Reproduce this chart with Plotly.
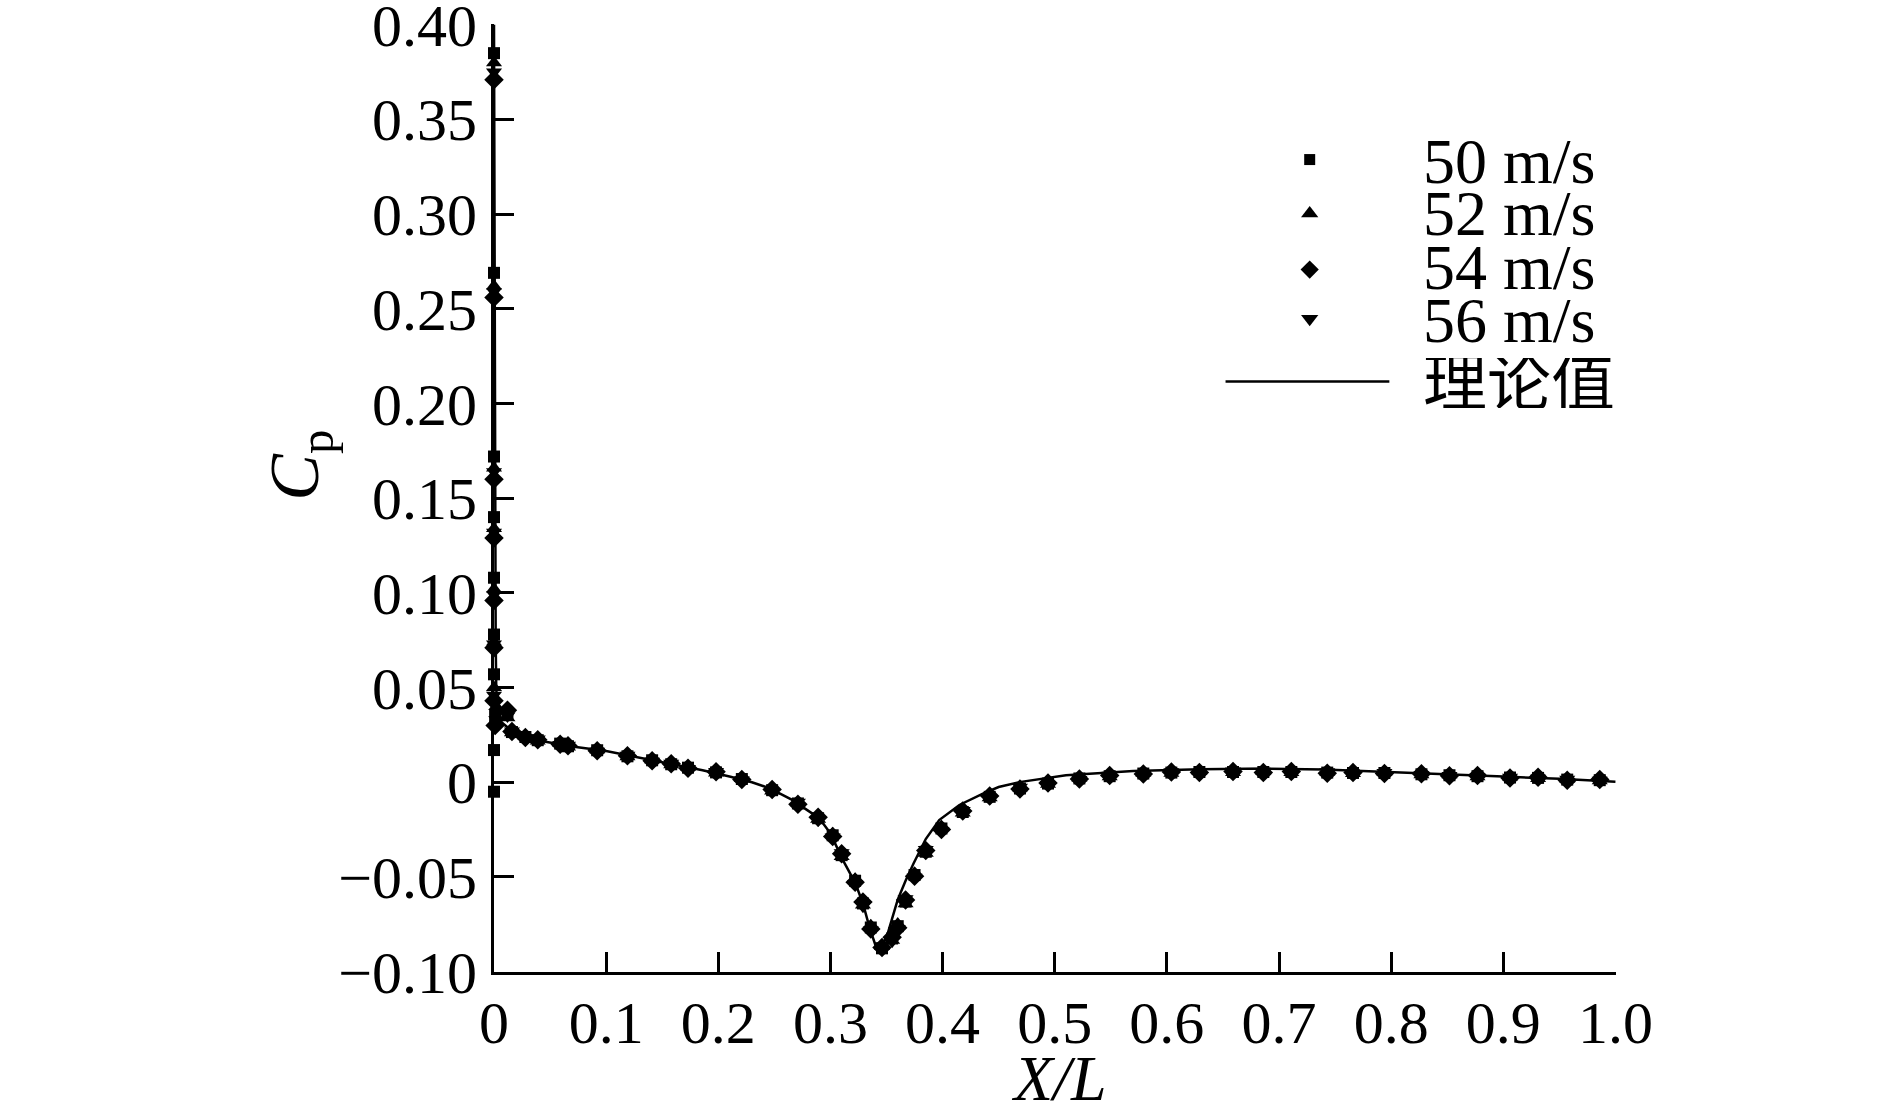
import plotly.graph_objects as go

# theoretical curve
theory_x = [0.0, 0.0003, 0.0006, 0.001, 0.0015, 0.002, 0.003, 0.005, 0.008, 0.012,
            0.02, 0.04, 0.068, 0.10, 0.127, 0.16, 0.186, 0.21, 0.23, 0.246,
            0.265, 0.28, 0.29, 0.30, 0.311, 0.322, 0.329, 0.335, 0.341, 0.345,
            0.350, 0.355, 0.360, 0.367, 0.374, 0.385, 0.397, 0.415, 0.436, 0.45,
            0.47, 0.51, 0.57, 0.63, 0.69, 0.74, 0.82, 0.90, 0.95, 1.0]
theory_cp = [0.40, 0.30, 0.20, 0.12, 0.075, 0.05, 0.038, 0.033, 0.031, 0.029,
             0.026, 0.022, 0.019, 0.0165, 0.0134, 0.0095, 0.0063, 0.003, 0.0, -0.0032,
             -0.009, -0.015, -0.019, -0.027, -0.041, -0.053, -0.064, -0.077, -0.0875, -0.087,
             -0.082, -0.072, -0.062, -0.052, -0.043, -0.030, -0.020, -0.012, -0.006, -0.0025,
             0.0002, 0.0037, 0.006, 0.0069, 0.0072, 0.0067, 0.005, 0.003, 0.0018, 0.0002]

# pressure taps along the body (shared by all speeds)
body_x = [0.012, 0.016, 0.028, 0.039, 0.059, 0.066, 0.092, 0.119, 0.141, 0.158,
          0.173, 0.198, 0.221, 0.248, 0.271, 0.289, 0.302, 0.310, 0.322, 0.329,
          0.336, 0.346, 0.355, 0.360, 0.367, 0.375, 0.385, 0.399, 0.418, 0.442,
          0.469, 0.494, 0.522, 0.549, 0.579, 0.604, 0.629, 0.659, 0.686, 0.711,
          0.743, 0.766, 0.794, 0.827, 0.852, 0.877, 0.906, 0.931, 0.957, 0.986]

# nose taps
nose_x_50 = [0.0, 0.0, 0.0, 0.0, 0.0, 0.0, 0.0, 0.001, 0.0, 0.0]
nose_cp_50 = [0.385, 0.269, 0.172, 0.140, 0.108, 0.078, 0.057, 0.035, 0.017, -0.005]
nose_x_52 = [0.0, 0.0, 0.0, 0.0, 0.0, 0.0, 0.0, 0.002]
nose_cp_52 = [0.380, 0.262, 0.166, 0.134, 0.102, 0.074, 0.050, 0.040]
nose_x_54 = [0.0, 0.0, 0.0, 0.0, 0.0, 0.0, 0.0, 0.001]
nose_cp_54 = [0.371, 0.256, 0.160, 0.129, 0.096, 0.071, 0.043, 0.030]
nose_x_56 = [0.0, 0.0, 0.0, 0.0, 0.0, 0.0, 0.0, 0.002]
nose_cp_56 = [0.375, 0.259, 0.164, 0.132, 0.099, 0.073, 0.046, 0.033]

body_cp_50 = [0.036, 0.0265, 0.0239, 0.0222, 0.0204, 0.0190, 0.0169, 0.0137, 0.0116, 0.0095,
              0.0077, 0.0052, 0.0017, -0.0042, -0.0112, -0.0190, -0.0280, -0.0385, -0.0520, -0.0640,
              -0.0767, -0.0877, -0.0825, -0.0760, -0.0630, -0.0490, -0.0367, -0.0244, -0.0157, -0.0077,
              -0.0033, -0.0007, 0.0020, 0.0032, 0.0046, 0.0051, 0.0054, 0.0054, 0.0054, 0.0054,
              0.0051, 0.0049, 0.0049, 0.0042, 0.0037, 0.0032, 0.0025, 0.0023, 0.0014, 0.0011]
body_cp_52 = [0.034, 0.0262, 0.0242, 0.0218, 0.0206, 0.0186, 0.0172, 0.0134, 0.0119, 0.0092,
              0.0080, 0.0049, 0.0020, -0.0046, -0.0108, -0.0196, -0.0272, -0.0392, -0.0512, -0.0648,
              -0.0758, -0.0868, -0.0834, -0.0748, -0.0642, -0.0482, -0.0375, -0.0236, -0.0162, -0.0082,
              -0.0029, -0.0010, 0.0023, 0.0029, 0.0049, 0.0048, 0.0057, 0.0052, 0.0057, 0.0051,
              0.0054, 0.0046, 0.0052, 0.0039, 0.0040, 0.0029, 0.0028, 0.0020, 0.0017, 0.0008]
body_cp_54 = [0.038, 0.0268, 0.0236, 0.0225, 0.0201, 0.0193, 0.0166, 0.0140, 0.0113, 0.0098,
              0.0074, 0.0055, 0.0014, -0.0038, -0.0116, -0.0185, -0.0286, -0.0378, -0.0528, -0.0632,
              -0.0775, -0.0872, -0.0818, -0.0768, -0.0622, -0.0497, -0.0360, -0.0250, -0.0152, -0.0073,
              -0.0036, -0.0004, 0.0017, 0.0035, 0.0043, 0.0054, 0.0051, 0.0057, 0.0051, 0.0057,
              0.0048, 0.0052, 0.0046, 0.0045, 0.0034, 0.0035, 0.0022, 0.0026, 0.0011, 0.0014]
body_cp_56 = [0.035, 0.0270, 0.0234, 0.0228, 0.0199, 0.0195, 0.0164, 0.0142, 0.0111, 0.0100,
              0.0072, 0.0057, 0.0012, -0.0049, -0.0105, -0.0199, -0.0289, -0.0372, -0.0535, -0.0655,
              -0.0780, -0.0865, -0.0840, -0.0772, -0.0615, -0.0502, -0.0355, -0.0255, -0.0149, -0.0085,
              -0.0026, -0.0013, 0.0015, 0.0037, 0.0041, 0.0056, 0.0049, 0.0059, 0.0049, 0.0052,
              0.0056, 0.0044, 0.0051, 0.0040, 0.0035, 0.0030, 0.0027, 0.0021, 0.0016, 0.0010]

series_names = ["50 m/s", "52 m/s", "54 m/s", "56 m/s"]
theory_name = "理论值"

x_ticks = [0, 0.1, 0.2, 0.3, 0.4, 0.5, 0.6, 0.7, 0.8, 0.9, 1.0]
x_ticktext = ["0", "0.1", "0.2", "0.3", "0.4", "0.5", "0.6", "0.7", "0.8", "0.9", "1.0"]
y_ticks = [-0.10, -0.05, 0, 0.05, 0.10, 0.15, 0.20, 0.25, 0.30, 0.35, 0.40]
y_ticktext = ["\u22120.10", "\u22120.05", "0", "0.05", "0.10", "0.15", "0.20",
              "0.25", "0.30", "0.35", "0.40"]

FONT = "Liberation Serif, Times New Roman, Noto Sans CJK SC, serif"

series = [
    (nose_x_50 + body_x, nose_cp_50 + body_cp_50, "square", 12),
    (nose_x_52 + body_x, nose_cp_52 + body_cp_52, "triangle-up", 14),
    (nose_x_54 + body_x, nose_cp_54 + body_cp_54, "diamond", 15),
    (nose_x_56 + body_x, nose_cp_56 + body_cp_56, "triangle-down", 14),
]
legend_sizes = [11, 15, 14, 15]

fig = go.Figure()

fig.add_trace(go.Scatter(x=theory_x, y=theory_cp, mode="lines", name=theory_name,
                         line=dict(color="black", width=2.5), showlegend=False))

for (xs, ys, sym, size), name in zip(series, series_names):
    fig.add_trace(go.Scatter(x=xs, y=ys, mode="markers", name=name, cliponaxis=False,
                             marker=dict(symbol=sym, size=size, color="black"),
                             showlegend=False))

# hand-made legend on an overlay axis spanning the plot area
legend_key_x = 0.727
legend_key_y = [0.857, 0.800, 0.741, 0.689]
legend_text_x = 0.826
legend_text_y = [0.8555, 0.8006, 0.7437, 0.6878, 0.6213]
legend_line = (0.652, 0.798, 0.623)

for (xs, ys, sym, size), ky, ls in zip(series, legend_key_y, legend_sizes):
    fig.add_trace(go.Scatter(x=[legend_key_x], y=[ky], mode="markers", xaxis="x2", yaxis="y2",
                             marker=dict(symbol=sym, size=ls, color="black"),
                             showlegend=False, hoverinfo="skip", cliponaxis=False))

fig.add_shape(type="line", xref="paper", yref="paper",
              x0=legend_line[0], x1=legend_line[1], y0=legend_line[2], y1=legend_line[2],
              line=dict(color="black", width=2.5))

for label, ty in zip(series_names + [theory_name], legend_text_y):
    fig.add_annotation(x=legend_text_x, y=ty, xref="paper", yref="paper", text=label,
                       showarrow=False, xanchor="left", yanchor="middle", height=50,
                       font=dict(family=FONT, size=64, color="black"))

# axis titles
fig.add_annotation(x=-0.173, y=0.535, xref="paper", yref="paper",
                   text="<i>C</i><sub>p</sub>", textangle=-90, showarrow=False,
                   xanchor="center", yanchor="middle",
                   font=dict(family=FONT, size=70, color="black"))
fig.add_annotation(x=0.503, y=-0.112, xref="paper", yref="paper",
                   text="<i>X/L</i>", showarrow=False, height=56,
                   xanchor="center", yanchor="middle",
                   font=dict(family=FONT, size=64, color="black"))

axis_common = dict(showgrid=False, zeroline=False, showline=True, linecolor="black",
                   linewidth=3, ticks="inside", ticklen=20, tickwidth=2.5, tickcolor="black",
                   ticklabeloverflow="allow", automargin=False,
                   tickfont=dict(family=FONT, size=60, color="black"), mirror=False)

fig.update_layout(
    width=1890,
    height=1113,
    margin=dict(l=494, r=274, t=24, b=141, autoexpand=False),
    paper_bgcolor="white",
    plot_bgcolor="white",
    showlegend=False,
    xaxis=dict(range=[0, 1.0005], tickvals=x_ticks, ticktext=x_ticktext,
               ticklabelstandoff=-4, **axis_common),
    yaxis=dict(range=[-0.1002, 0.4004], tickvals=y_ticks, ticktext=y_ticktext,
               ticklabelstandoff=2, **axis_common),
    xaxis2=dict(overlaying="x", range=[0, 1], visible=False),
    yaxis2=dict(overlaying="y", range=[0, 1], visible=False),
)

# drop the default 8px page margin so the figure fills the window exactly
fig.write_html("out.html", config={"displayModeBar": False},
               post_script="document.body.style.margin='0';")
